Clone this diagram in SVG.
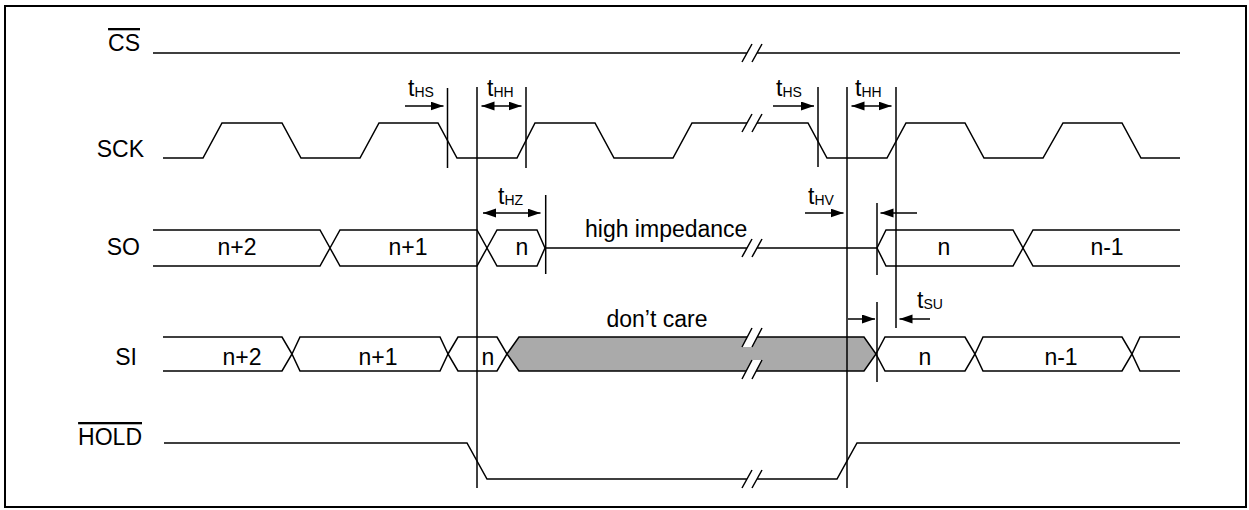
<svg xmlns="http://www.w3.org/2000/svg" width="1249" height="510" viewBox="0 0 1249 510">
<style>
text{font-family:"Liberation Sans",Arial,sans-serif;font-size:23px;fill:#000}
.lbl{text-anchor:end}
.c{text-anchor:middle}
.w{fill:none;stroke:#000;stroke-width:1.5;stroke-linejoin:miter}
.cell{fill:#fff;stroke:#000;stroke-width:1.5}
.gray{fill:#aaaaaa;stroke:#000;stroke-width:1.5}
.v{stroke:#000;stroke-width:1.5}
.a{stroke:#000;stroke-width:1.5;fill:none}
.sub{font-size:14px}
</style>
<defs>
<marker id="ah" markerUnits="userSpaceOnUse" markerWidth="14" markerHeight="10" refX="13" refY="4.5" orient="auto-start-reverse">
<path d="M0,0 L13,4.5 L0,9 Z" fill="#000"/>
</marker>
</defs>
<rect x="5" y="6" width="1241" height="501" fill="#fff" stroke="#000" stroke-width="2"/>

<g id="CS">
<text class="lbl" x="140" y="51" text-decoration="overline">CS</text>
<path class="w" d="M153,53 H747 M757,53 H1180 M742,62 L752,44 M752,62 L762,44"/>
</g>

<g id="SCK">
<text class="lbl" x="144" y="157">SCK</text>
<path class="w" d="M163,158 H203 L222,123 H282 L301,158 H360 L379,123 H438 L457,158 H517 L535,123 H595 L614,158 H673 L692,123 H747 M757,123 H808 L827,158 H887 L906,123 H965 L984,158 H1043 L1063,123 H1122 L1141,158 H1180"/>
<path class="w" d="M742,132 L752,114 M752,132 L762,114"/>
</g>

<g id="SO">
<text class="lbl" x="140" y="255">SO</text>
<path class="w" d="M153,230 H320 L330,248 L320,266 H153"/>
<polygon class="cell" points="330,248 340,230 477,230 487,248 477,266 340,266"/>
<polygon class="cell" points="487,248 497,230 537,230 545,248 537,266 497,266"/>
<path class="w" d="M545,248 H747 M757,248 H877 M742,257 L752,239 M752,257 L762,239"/>
<polygon class="cell" points="877,248 886,230 1013,230 1023,248 1013,266 886,266"/>
<path class="w" d="M1180,230 H1033 L1023,248 L1033,266 H1180"/>
<text class="c" x="237" y="255">n+2</text>
<text class="c" x="408" y="255">n+1</text>
<text class="c" x="522" y="255">n</text>
<text x="585" y="237">high impedance</text>
<text class="c" x="944" y="255">n</text>
<text class="c" x="1107" y="255">n-1</text>
</g>

<g id="SI">
<text class="lbl" x="137" y="365">SI</text>
<path class="w" d="M163,337 H282 L292,354 L282,371 H163"/>
<polygon class="cell" points="292,354 300,337 440,337 448,354 440,371 300,371"/>
<polygon class="cell" points="448,354 458,337 497,337 507,354 497,371 458,371"/>
<polygon class="gray" points="507,354 519,337 864,337 876,354 864,371 519,371"/>
<polygon fill="#fff" points="742,347 752,328 762,328 752,347"/>
<polygon fill="#fff" points="742,379 752,360 762,360 752,379"/>
<path class="w" d="M742,347 L752,328 M752,347 L762,328 M742,379 L752,360 M752,379 L762,360"/>
<polygon class="cell" points="876,354 885,337 965,337 975,354 965,371 885,371"/>
<polygon class="cell" points="975,354 983,337 1122,337 1132,354 1122,371 983,371"/>
<path class="w" d="M1180,337 H1140 L1132,354 L1140,371 H1180"/>
<text class="c" x="242" y="365">n+2</text>
<text class="c" x="378" y="365">n+1</text>
<text class="c" x="488" y="365">n</text>
<text class="c" x="657" y="327">don’t care</text>
<text class="c" x="925" y="365">n</text>
<text class="c" x="1061" y="365">n-1</text>
</g>

<g id="HOLD">
<text class="lbl" x="142" y="445" text-decoration="overline">HOLD</text>
<path class="w" d="M164,443 H467 L487,479 H747 M757,479 H837 L857,443 H1180 M742,488 L752,470 M752,488 L762,470"/>
</g>

<g id="connectors">
<line class="v" x1="447.5" y1="88" x2="447.5" y2="168"/>
<line class="v" x1="477" y1="87" x2="477" y2="488"/>
<line class="v" x1="526" y1="87" x2="526" y2="168"/>
<line class="v" x1="545.7" y1="195" x2="545.7" y2="274"/>
<line class="v" x1="818" y1="87" x2="818" y2="167"/>
<line class="v" x1="847" y1="87" x2="847" y2="488"/>
<line class="v" x1="896" y1="87" x2="896" y2="328"/>
<line class="v" x1="877" y1="203" x2="877" y2="275"/>
<line class="v" x1="877" y1="302" x2="877" y2="382"/>

<line class="a" x1="405" y1="106" x2="443.5" y2="106" marker-end="url(#ah)"/>
<line class="a" x1="481.5" y1="106" x2="521.5" y2="106" marker-start="url(#ah)" marker-end="url(#ah)"/>
<line class="a" x1="773" y1="106" x2="814" y2="106" marker-end="url(#ah)"/>
<line class="a" x1="851.5" y1="106" x2="891.5" y2="106" marker-start="url(#ah)" marker-end="url(#ah)"/>
<line class="a" x1="483" y1="213" x2="540.5" y2="213" marker-start="url(#ah)" marker-end="url(#ah)"/>
<line class="a" x1="805" y1="213" x2="843.5" y2="213" marker-end="url(#ah)"/>
<line class="a" x1="917" y1="213" x2="880.5" y2="213" marker-end="url(#ah)"/>
<line class="a" x1="848" y1="319" x2="875" y2="319" marker-end="url(#ah)"/>
<line class="a" x1="930" y1="319" x2="899.5" y2="319" marker-end="url(#ah)"/>

<text x="408" y="96">t<tspan class="sub" dy="1">HS</tspan></text>
<text x="487" y="96">t<tspan class="sub" dy="1">HH</tspan></text>
<text x="776" y="96">t<tspan class="sub" dy="1">HS</tspan></text>
<text x="855" y="96">t<tspan class="sub" dy="1">HH</tspan></text>
<text x="498" y="204">t<tspan class="sub" dy="1">HZ</tspan></text>
<text x="808" y="204">t<tspan class="sub" dy="1">HV</tspan></text>
<text x="917" y="308">t<tspan class="sub" dy="1">SU</tspan></text>
</g>
</svg>
